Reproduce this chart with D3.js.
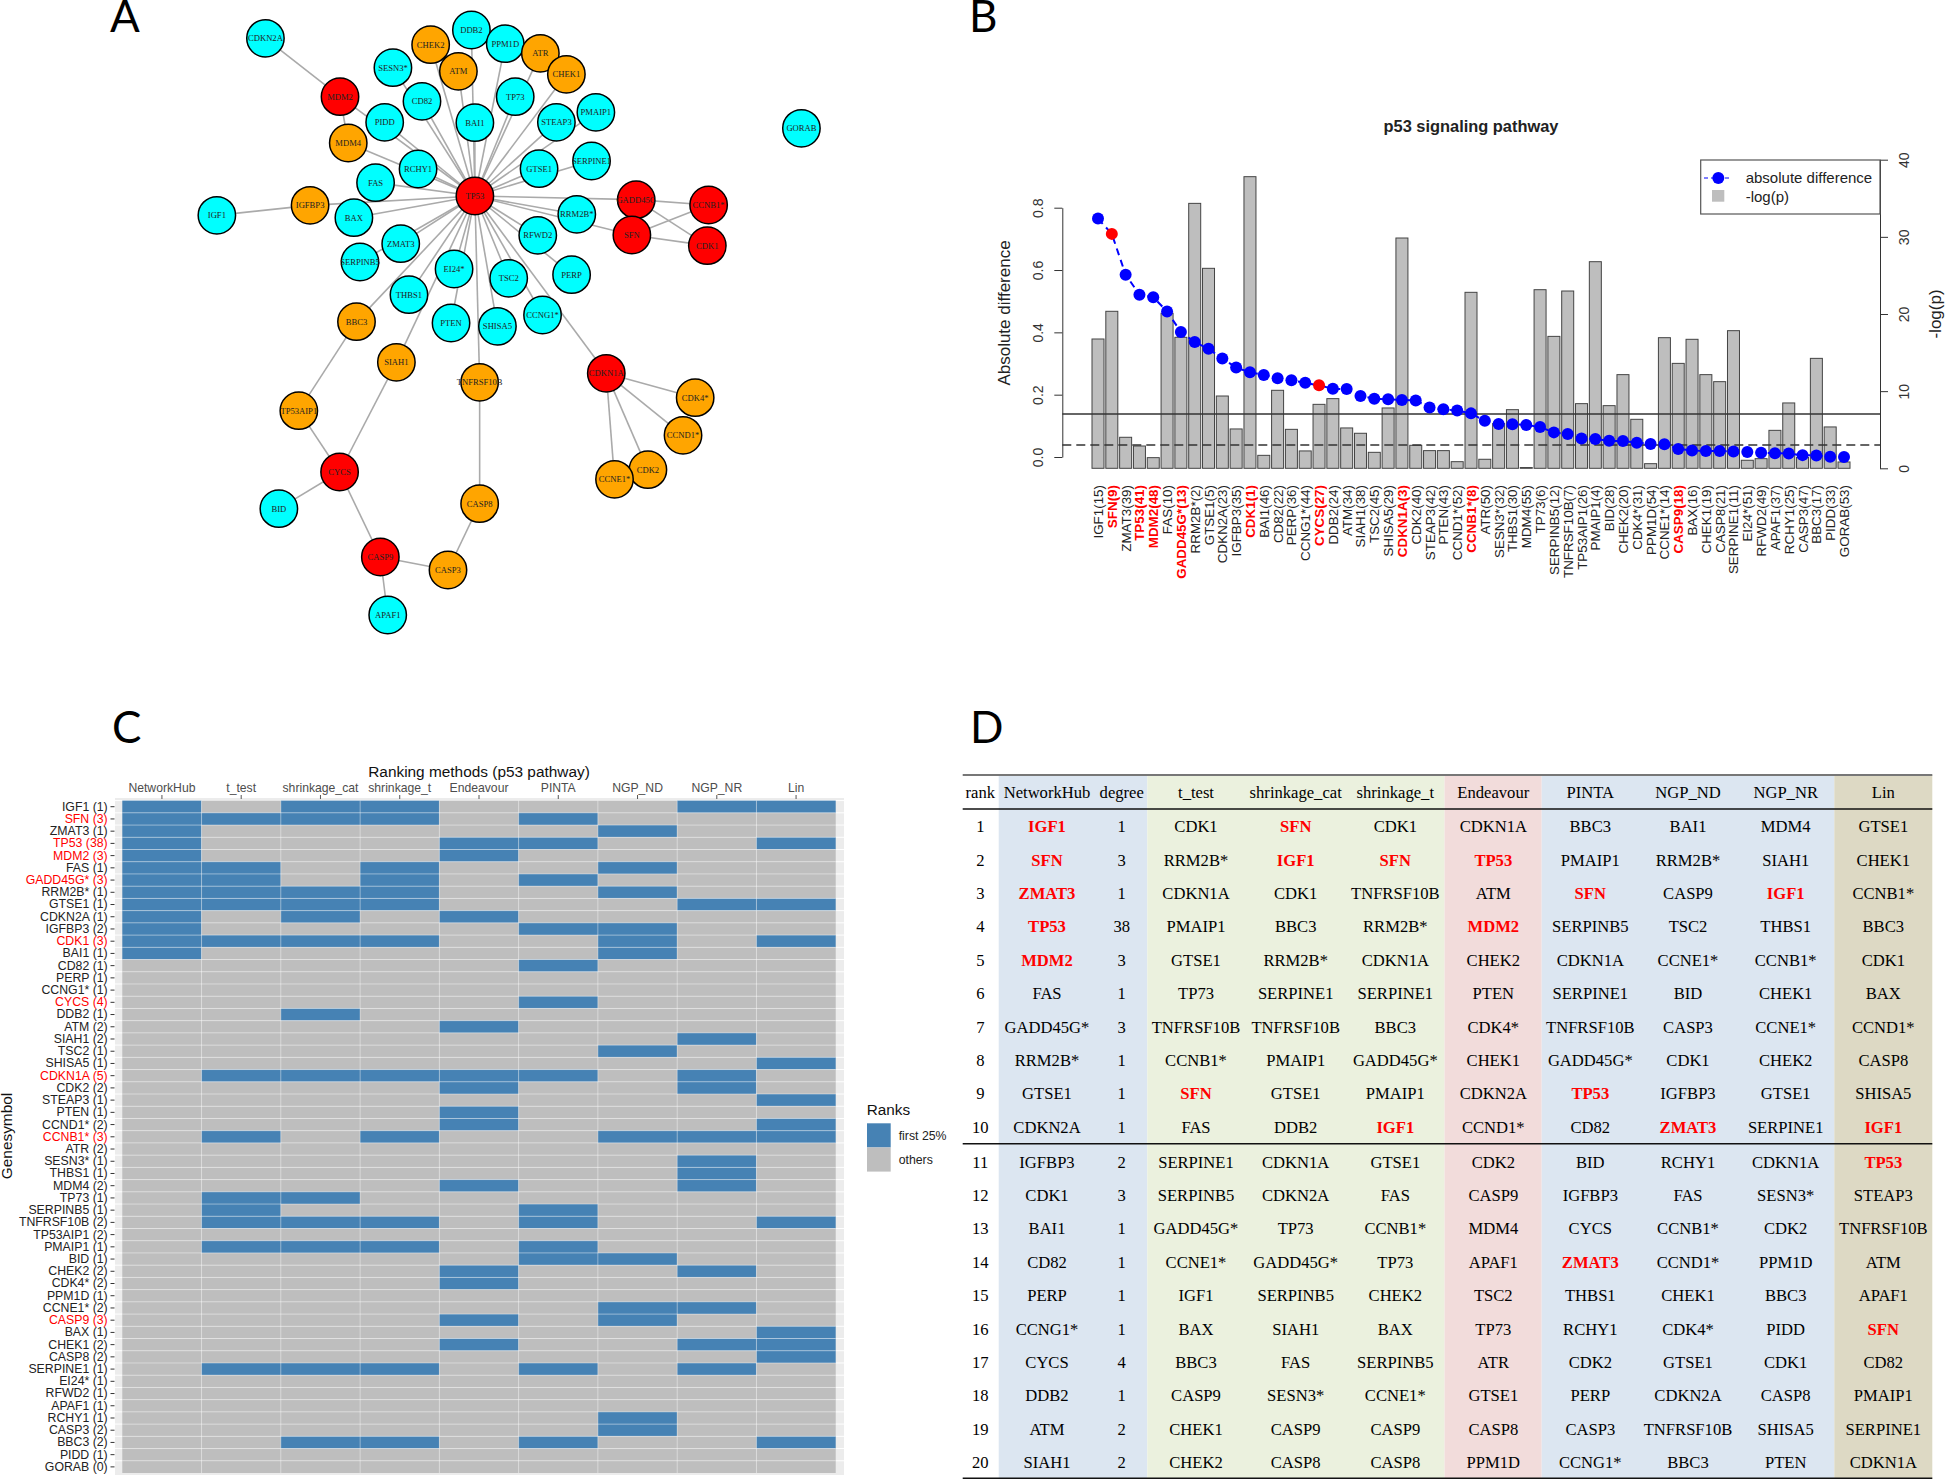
<!DOCTYPE html>
<html><head><meta charset="utf-8">
<script src="https://cdn.jsdelivr.net/npm/d3@7/dist/d3.min.js"></script>
<style>html,body{margin:0;padding:0;background:#fff}svg{display:block}</style>
</head><body><svg id="c" width="1946" height="1479"></svg>
<script>
// ---------- panel A : network ----------
const netNames=["CDKN2A","DDB2","CHEK2","ATM","PPM1D","ATR","CHEK1","SESN3*","CD82","TP73","MDM2","PIDD","MDM4","BAI1","STEAP3","PMAIP1","RCHY1","GTSE1","SERPINE1","FAS","TP53","IGFBP3","BAX","IGF1","GADD45G","CCNB1*","SFN","CDK1","RRM2B*","RFWD2","ZMAT3","SERPINB5","EI24*","TSC2","PERP","THBS1","CCNG1*","PTEN","SHISA5","BBC3","GORAB","SIAH1","TNFRSF10B","CDKN1A","TP53AIP1","CDK4*","CCND1*","CDK2","CCNE1*","CYCS","BID","CASP8","CASP9","CASP3","APAF1"];
const netLayoutX=[197,672,578,642,750,831,891,491,558,773,369,472,388,680,868,959,549,828,949,451,680,300,401,85,1052,1219,1042,1216,915,825,509,415,632,758,903,528,836,625,732,407,1433,499,691,983,274,1188,1160,1079,1002,368,228,691,462,618,479];
const netLayoutY=[115,90,134,214,131,160,223,203,304,290,290,367,429,368,367,337,507,506,483,548,588,616,653,646,599,615,705,737,643,706,731,786,807,835,824,884,945,969,979,965,385,1087,1147,1120,1232,1193,1306,1409,1438,1416,1526,1511,1671,1710,1845];
const netKind=["c","c","o","o","c","o","o","c","c","c","r","c","o","c","c","c","c","c","c","c","r","o","c","c","r","r","r","r","c","c","c","c","c","c","c","c","c","c","c","o","c","o","o","r","o","o","o","o","o","r","c","o","r","o","c"];
const tp53Partners=["DDB2","CHEK2","ATM","SESN3*","CD82","BAI1","TP73","PPM1D","ATR","CHEK1","STEAP3","PMAIP1","PIDD","MDM4","RCHY1","GTSE1","SERPINE1","FAS","IGFBP3","BAX","GADD45G","RRM2B*","RFWD2","ZMAT3","SERPINB5","EI24*","TSC2","PERP","THBS1","CCNG1*","PTEN","SHISA5","BBC3","SIAH1","TNFRSF10B","CDKN1A","MDM2","SFN"];
const otherEdges=[["CDKN2A","MDM2"],["MDM2","MDM4"],["IGF1","IGFBP3"],["GADD45G","CCNB1*"],["GADD45G","CDK1"],["SFN","CCNB1*"],["SFN","CDK1"],["CDKN1A","CDK4*"],["CDKN1A","CCND1*"],["CDKN1A","CDK2"],["CDKN1A","CCNE1*"],["BBC3","TP53AIP1"],["TP53AIP1","CYCS"],["SIAH1","CYCS"],["CYCS","BID"],["CYCS","CASP9"],["CASP9","APAF1"],["CASP9","CASP3"],["CASP3","CASP8"],["CASP8","TNFRSF10B"]];
const kindColors={c:"#00FFFF",o:"#FFA500",r:"#FF0000"};

// ---------- panel B : bars + points ----------
const geneLabels=["IGF1(15)","SFN(9)","ZMAT3(39)","TP53(41)","MDM2(48)","FAS(10)","GADD45G*(13)","RRM2B*(2)","GTSE1(5)","CDKN2A(23)","IGFBP3(35)","CDK1(1)","BAI1(46)","CD82(22)","PERP(36)","CCNG1*(44)","CYCS(27)","DDB2(24)","ATM(34)","SIAH1(38)","TSC2(45)","SHISA5(29)","CDKN1A(3)","CDK2(40)","STEAP3(42)","PTEN(43)","CCND1*(52)","CCNB1*(8)","ATR(50)","SESN3*(32)","THBS1(30)","MDM4(55)","TP73(6)","SERPINB5(12)","TNFRSF10B(7)","TP53AIP1(26)","PMAIP1(4)","BID(28)","CHEK2(20)","CDK4*(31)","PPM1D(54)","CCNE1*(14)","CASP9(18)","BAX(16)","CHEK1(19)","CASP8(21)","SERPINE1(11)","EI24*(51)","RFWD2(49)","APAF1(37)","RCHY1(25)","CASP3(47)","BBC3(17)","PIDD(33)","GORAB(53)"];
const redGeneLabels=["SFN(9)","TP53(41)","MDM2(48)","GADD45G*(13)","CDK1(1)","CYCS(27)","CDKN1A(3)","CCNB1*(8)","CASP9(18)"];
const redPointLabels=["SFN(9)","CYCS(27)"];
const logP=[16.76,20.35,4.02,2.89,1.38,20.1,16.98,34.34,25.92,9.37,5.10,37.8,1.68,10.11,5.05,2.25,8.29,9.03,5.23,4.54,2.07,7.82,29.85,2.98,2.29,2.29,0.86,22.81,1.17,5.8,7.6,0.1,23.15,17.1,22.98,8.38,26.78,8.12,12.14,6.35,0.6,16.93,13.6,16.72,12.14,11.23,17.84,1.04,1.25,4.92,8.47,1.4,14.25,5.36,0.82];
const absDiff=[.765,.716,.585,.521,.513,.467,.401,.369,.347,.316,.287,.272,.263,.253,.246,.238,.230,.219,.218,.196,.187,.185,.183,.181,.159,.153,.149,.140,.116,.106,.105,.103,.096,.079,.074,.059,.058,.052,.051,.046,.042,.041,.026,.021,.019,.019,.018,.016,.014,.012,.011,.006,.005,.001,0];
const solidCut=7.04, dashedCut=3.02;

// ---------- panel C : heat map ----------
const heatRows=["IGF1 (1)","SFN (3)","ZMAT3 (1)","TP53 (38)","MDM2 (3)","FAS (1)","GADD45G* (3)","RRM2B* (1)","GTSE1 (1)","CDKN2A (1)","IGFBP3 (2)","CDK1 (3)","BAI1 (1)","CD82 (1)","PERP (1)","CCNG1* (1)","CYCS (4)","DDB2 (1)","ATM (2)","SIAH1 (2)","TSC2 (1)","SHISA5 (1)","CDKN1A (5)","CDK2 (2)","STEAP3 (1)","PTEN (1)","CCND1* (2)","CCNB1* (3)","ATR (2)","SESN3* (1)","THBS1 (1)","MDM4 (2)","TP73 (1)","SERPINB5 (1)","TNFRSF10B (2)","TP53AIP1 (2)","PMAIP1 (1)","BID (1)","CHEK2 (2)","CDK4* (2)","PPM1D (1)","CCNE1* (2)","CASP9 (3)","BAX (1)","CHEK1 (2)","CASP8 (2)","SERPINE1 (1)","EI24* (1)","RFWD2 (1)","APAF1 (1)","RCHY1 (1)","CASP3 (2)","BBC3 (2)","PIDD (1)","GORAB (0)"];
const redHeatRows=["SFN (3)","TP53 (38)","MDM2 (3)","GADD45G* (3)","CDK1 (3)","CYCS (4)","CDKN1A (5)","CCNB1* (3)","CASP9 (3)"];
const heatMethods=["NetworkHub","t_test","shrinkage_cat","shrinkage_t","Endeavour","PINTA","NGP_ND","NGP_NR","Lin"];
const topNetworkHub=["IGF1","SFN","ZMAT3","TP53","MDM2","FAS","GADD45G*","RRM2B*","GTSE1","CDKN2A","IGFBP3","CDK1","BAI1"];
const topTTest=["SFN","FAS","GADD45G*","RRM2B*","GTSE1","CDK1","CDKN1A","CCNB1*","TP73","SERPINB5","TNFRSF10B","PMAIP1","SERPINE1"];
const topShrinkCat=["IGF1","SFN","RRM2B*","GTSE1","CDKN2A","CDK1","DDB2","CDKN1A","TP73","TNFRSF10B","PMAIP1","SERPINE1","BBC3"];
const topShrinkT=["IGF1","SFN","FAS","GADD45G*","RRM2B*","GTSE1","CDK1","CDKN1A","CCNB1*","TNFRSF10B","PMAIP1","SERPINE1","BBC3"];
const topEndeavour=["TP53","MDM2","CDKN2A","ATM","CDKN1A","CDK2","PTEN","CCND1*","MDM4","CHEK2","CDK4*","CASP9","CHEK1"];
const topPinta=["SFN","TP53","GADD45G*","IGFBP3","CD82","CYCS","CDKN1A","SERPINB5","TNFRSF10B","PMAIP1","BID","SERPINE1","BBC3"];
const topNgpNd=["ZMAT3","FAS","RRM2B*","IGFBP3","CDK1","BAI1","TSC2","CCNB1*","BID","CCNE1*","CASP9","RCHY1","CASP3"];
const topNgpNr=["IGF1","GTSE1","SIAH1","CDKN1A","CDK2","CCNB1*","SESN3*","THBS1","MDM4","CHEK2","CCNE1*","CHEK1","SERPINE1"];
const topLin=["IGF1","TP53","GTSE1","CDK1","SHISA5","STEAP3","CCND1*","CCNB1*","TNFRSF10B","BAX","CHEK1","CASP8","BBC3"];
const heatTop=[topNetworkHub,topTTest,topShrinkCat,topShrinkT,topEndeavour,topPinta,topNgpNd,topNgpNr,topLin];

// ---------- panel D : table ----------
const tableRanks=[1,2,3,4,5,6,7,8,9,10,11,12,13,14,15,16,17,18,19,20];
const tableHeaders=["rank","NetworkHub","degree","t_test","shrinkage_cat","shrinkage_t","Endeavour","PINTA","NGP_ND","NGP_NR","Lin"];
const colHub=["IGF1","SFN","ZMAT3","TP53","MDM2","FAS","GADD45G*","RRM2B*","GTSE1","CDKN2A","IGFBP3","CDK1","BAI1","CD82","PERP","CCNG1*","CYCS","DDB2","ATM","SIAH1"];
const colDegree=[1,3,1,38,3,1,3,1,1,1,2,3,1,1,1,1,4,1,2,2];
const colT=["CDK1","RRM2B*","CDKN1A","PMAIP1","GTSE1","TP73","TNFRSF10B","CCNB1*","SFN","FAS","SERPINE1","SERPINB5","GADD45G*","CCNE1*","IGF1","BAX","BBC3","CASP9","CHEK1","CHEK2"];
const colCat=["SFN","IGF1","CDK1","BBC3","RRM2B*","SERPINE1","TNFRSF10B","PMAIP1","GTSE1","DDB2","CDKN1A","CDKN2A","TP73","GADD45G*","SERPINB5","SIAH1","FAS","SESN3*","CASP9","CASP8"];
const colShrinkT=["CDK1","SFN","TNFRSF10B","RRM2B*","CDKN1A","SERPINE1","BBC3","GADD45G*","PMAIP1","IGF1","GTSE1","FAS","CCNB1*","TP73","CHEK2","BAX","SERPINB5","CCNE1*","CASP9","CASP8"];
const colEnd=["CDKN1A","TP53","ATM","MDM2","CHEK2","PTEN","CDK4*","CHEK1","CDKN2A","CCND1*","CDK2","CASP9","MDM4","APAF1","TSC2","TP73","ATR","GTSE1","CASP8","PPM1D"];
const colPinta=["BBC3","PMAIP1","SFN","SERPINB5","CDKN1A","SERPINE1","TNFRSF10B","GADD45G*","TP53","CD82","BID","IGFBP3","CYCS","ZMAT3","THBS1","RCHY1","CDK2","PERP","CASP3","CCNG1*"];
const colNd=["BAI1","RRM2B*","CASP9","TSC2","CCNE1*","BID","CASP3","CDK1","IGFBP3","ZMAT3","RCHY1","FAS","CCNB1*","CCND1*","CHEK1","CDK4*","GTSE1","CDKN2A","TNFRSF10B","BBC3"];
const colNr=["MDM4","SIAH1","IGF1","THBS1","CCNB1*","CHEK1","CCNE1*","CHEK2","GTSE1","SERPINE1","CDKN1A","SESN3*","CDK2","PPM1D","BBC3","PIDD","CDK1","CASP8","SHISA5","PTEN"];
const colLin=["GTSE1","CHEK1","CCNB1*","BBC3","CDK1","BAX","CCND1*","CASP8","SHISA5","IGF1","TP53","STEAP3","TNFRSF10B","ATM","APAF1","SFN","CD82","PMAIP1","SERPINE1","CDKN1A"];
const tableCols=[tableRanks,colHub,colDegree,colT,colCat,colShrinkT,colEnd,colPinta,colNd,colNr,colLin];
const tableTop5=["IGF1","SFN","ZMAT3","TP53","MDM2"];
const tableBlackExceptions=["t_test:IGF1"];

const svg=d3.select("#c");
const SANS="'Liberation Sans',Arial,sans-serif", SERIF="'Liberation Serif','Times New Roman',serif";

// panel letters
const letters=["A","B","C","D"], letterX=[110,969,112,970], letterY=[32,32,743,743];
svg.selectAll("text.letter").data(letters).join("text").attr("class","letter")
  .attr("x",(d,i)=>letterX[i]).attr("y",(d,i)=>letterY[i]).text(d=>d)
  .style("font-family","Lato,'Open Sans',sans-serif").style("font-size","44px").attr("fill","#000");

// ===== A =====
(function(){
  const g=svg.append("g");
  const x=d3.scaleLinear().domain([0,2306]).range([180,1180]);
  const y=d3.scaleLinear().domain([0,3000]).range([0,1000]);
  const idx=new Map(netNames.map((n,i)=>[n,i]));
  const edges=tp53Partners.map(p=>["TP53",p]).concat(otherEdges);
  g.selectAll("line").data(edges).join("line")
    .attr("x1",d=>x(netLayoutX[idx.get(d[0])])).attr("y1",d=>y(netLayoutY[idx.get(d[0])]))
    .attr("x2",d=>x(netLayoutX[idx.get(d[1])])).attr("y2",d=>y(netLayoutY[idx.get(d[1])]))
    .attr("stroke","#aaaaaa").attr("stroke-width",1.6);
  const n=g.selectAll("g.n").data(netNames).join("g").attr("class","n")
    .attr("transform",(d,i)=>`translate(${x(netLayoutX[i])},${y(netLayoutY[i])})`);
  n.append("circle").attr("r",18.7).attr("fill",(d,i)=>kindColors[netKind[i]]).attr("stroke","#000").attr("stroke-width",1.5);
  n.append("text").text(d=>d).attr("text-anchor","middle").attr("dy","0.33em")
    .style("font-family",SERIF).style("font-size","8.6px").attr("fill","#222");
})();

// ===== B =====
(function(){
  const g=svg.append("g");
  const yL=d3.scaleLinear().domain([0,0.8]).range([457,207.7]);
  const yR=d3.scaleLinear().domain([0,40]).range([468.3,159.7]);
  const x=d3.scalePoint().domain(geneLabels).range([1098,1844]);
  const barW=12;
  g.selectAll("rect.bar").data(geneLabels).join("rect").attr("class","bar")
    .attr("x",d=>x(d)-barW/2).attr("width",barW)
    .attr("y",(d,i)=>yR(logP[i])).attr("height",(d,i)=>yR(0)-yR(logP[i]))
    .attr("fill","#BEBEBE").attr("stroke","#444").attr("stroke-width",1);
  g.append("line").attr("x1",1062.3).attr("x2",1880).attr("y1",yR(solidCut)).attr("y2",yR(solidCut)).attr("stroke","#333").attr("stroke-width",1.3);
  g.append("line").attr("x1",1062.3).attr("x2",1880).attr("y1",yR(dashedCut)).attr("y2",yR(dashedCut)).attr("stroke","#333").attr("stroke-width",1.3).attr("stroke-dasharray","9,5");
  const line=d3.line().x((d,i)=>x(geneLabels[i])).y(d=>yL(d));
  g.append("path").attr("d",line(absDiff)).attr("fill","none").attr("stroke","#0000FF").attr("stroke-width",2).attr("stroke-dasharray","7,5");
  g.selectAll("circle.pt").data(geneLabels).join("circle").attr("class","pt")
    .attr("cx",d=>x(d)).attr("cy",(d,i)=>yL(absDiff[i])).attr("r",6)
    .attr("fill",d=>redPointLabels.includes(d)?"#FF0000":"#0000FF");
  g.selectAll("text.gl").data(geneLabels).join("text").attr("class","gl")
    .attr("transform",d=>`translate(${x(d)+5},485) rotate(-90)`)
    .attr("text-anchor","end").text(d=>d)
    .style("font-family",SANS).style("font-size","13.4px")
    .style("font-weight",d=>redGeneLabels.includes(d)?"bold":"normal")
    .attr("fill",d=>redGeneLabels.includes(d)?"#FF0000":"#222");
  const axL=g.append("g").attr("transform","translate(1062.3,0)")
    .call(d3.axisLeft(yL).tickValues([0,.2,.4,.6,.8]).tickFormat(d3.format(".1f")).tickSize(8).tickSizeOuter(0));
  const axR=g.append("g").attr("transform","translate(1880,0)")
    .call(d3.axisRight(yR).tickValues([0,10,20,30,40]).tickSize(8).tickSizeOuter(0));
  [axL,axR].forEach(a=>{a.select(".domain").attr("stroke","#333");a.selectAll("line").attr("stroke","#333");});
  axL.selectAll("text").attr("transform","rotate(-90)").attr("x",0).attr("y",-19.6).attr("dy",0).attr("text-anchor","middle")
    .style("font-family",SANS).style("font-size","14px").attr("fill","#333");
  axR.selectAll("text").attr("transform","rotate(-90)").attr("x",0).attr("y",29).attr("dy",0).attr("text-anchor","middle")
    .style("font-family",SANS).style("font-size","14px").attr("fill","#333");
  g.append("text").attr("transform","translate(1010,313) rotate(-90)").attr("text-anchor","middle").text("Absolute difference")
    .style("font-family",SANS).style("font-size","17px").attr("fill","#222");
  g.append("text").attr("transform","translate(1941,314) rotate(-90)").attr("text-anchor","middle").text("-log(p)")
    .style("font-family",SANS).style("font-size","17px").attr("fill","#222");
  g.append("text").attr("x",1471).attr("y",132).attr("text-anchor","middle").text("p53 signaling pathway")
    .style("font-family",SANS).style("font-size","16.4px").style("font-weight","bold").attr("fill","#222");
  // legend
  g.append("rect").attr("x",1700.7).attr("y",160).attr("width",179.3).attr("height",54).attr("fill","#fff").attr("stroke","#555").attr("stroke-width",1.2);
  g.append("line").attr("x1",1704).attr("x2",1732).attr("y1",178).attr("y2",178).attr("stroke","#0000FF").attr("stroke-width",1).attr("stroke-dasharray","4,3");
  g.append("circle").attr("cx",1718.3).attr("cy",178).attr("r",6).attr("fill","#0000FF");
  g.append("rect").attr("x",1712).attr("y",190).attr("width",12.3).attr("height",11.7).attr("fill","#BEBEBE");
  const legText=["absolute difference","-log(p)"], legY=[183.3,202];
  g.selectAll("text.leg").data(legText).join("text").attr("class","leg").attr("x",1745.7).attr("y",(d,i)=>legY[i]).text(d=>d)
    .style("font-family",SANS).style("font-size","15px").attr("fill","#222");
})();

// ===== C =====
(function(){
  const g=svg.append("g");
  const x=d3.scaleBand().domain(heatMethods).range([122.3,835.7]);
  const y=d3.scaleBand().domain(heatRows).range([800.6,1473]);
  g.append("rect").attr("x",115).attr("y",798).attr("width",729).attr("height",677).attr("fill","#ececec");
  g.selectAll("line.st").data(heatRows).join("line").attr("class","st")
    .attr("x1",115).attr("x2",844).attr("y1",d=>y(d)).attr("y2",d=>y(d)).attr("stroke","#fff").attr("stroke-width",1);
  const cells=heatMethods.flatMap((m,j)=>heatRows.map(r=>({m,r,top:heatTop[j].includes(r.split(" (")[0])})));
  g.selectAll("rect.cell").data(cells).join("rect").attr("class","cell")
    .attr("x",d=>x(d.m)).attr("width",x.bandwidth()).attr("y",d=>y(d.r)).attr("height",y.bandwidth())
    .attr("fill",d=>d.top?"#4682B4":"#BEBEBE");
  g.selectAll("line.rowl").data(heatRows.slice(1)).join("line").attr("class","rowl")
    .attr("x1",122.3).attr("x2",835.7).attr("y1",d=>y(d)).attr("y2",d=>y(d)).attr("stroke","#fff").attr("stroke-opacity",.4).attr("stroke-width",1);
  g.selectAll("line.coll").data(heatMethods.slice(1)).join("line").attr("class","coll")
    .attr("y1",800.6).attr("y2",1473).attr("x1",d=>x(d)).attr("x2",d=>x(d)).attr("stroke","#fff").attr("stroke-opacity",.35).attr("stroke-width",1);
  const axT=g.append("g").attr("transform","translate(0,799)").call(d3.axisTop(x).tickSize(4).tickSizeOuter(0));
  axT.select(".domain").remove();
  axT.selectAll("line").attr("stroke","#555");
  axT.selectAll("text").attr("y",-7.3).attr("dy",0).style("font-family",SANS).style("font-size","12.2px").attr("fill","#4d4d4d");
  const axL=g.append("g").attr("transform","translate(114.5,0)").call(d3.axisLeft(y).tickSize(4).tickSizeOuter(0).tickPadding(2.8));
  axL.select(".domain").remove();
  axL.selectAll("line").attr("stroke","#333");
  axL.selectAll("text").style("font-family",SANS).style("font-size","12.3px").attr("fill",d=>redHeatRows.includes(d)?"#FF0000":"#222");
  g.append("text").attr("x",479).attr("y",776.7).attr("text-anchor","middle").text("Ranking methods (p53 pathway)")
    .style("font-family",SANS).style("font-size","15.4px").attr("fill","#111");
  g.append("text").attr("transform","translate(12,1136) rotate(-90)").attr("text-anchor","middle").text("Genesymbol")
    .style("font-family",SANS).style("font-size","15.4px").attr("fill","#111");
  // legend
  g.append("text").attr("x",866.7).attr("y",1115).text("Ranks").style("font-family",SANS).style("font-size","15.3px").attr("fill","#111");
  const keyFill=["#4682B4","#BEBEBE"], keyText=["first 25%","others"];
  const ky=d3.scaleBand().domain(keyText).range([1123.3,1171.6]);
  g.selectAll("rect.key").data(keyText).join("rect").attr("class","key").attr("x",867).attr("width",23.7)
    .attr("y",d=>ky(d)).attr("height",ky.bandwidth()).attr("fill",(d,i)=>keyFill[i]);
  g.selectAll("text.kt").data(keyText).join("text").attr("class","kt").attr("x",898.7).attr("y",d=>ky(d)+ky.bandwidth()/2+4.4).text(d=>d)
    .style("font-family",SANS).style("font-size","12.3px").attr("fill","#222");
})();

// ===== D =====
(function(){
  const g=svg.append("g");
  const colX=[980.3,1047,1121.7,1196,1295.7,1395.3,1493.3,1590.3,1688,1785.7,1883.3];
  const y=d3.scaleLinear().domain([1,10,11,20]).range([826.7,1127.3,1162.2,1462.5]);
  const bandEdges=[998.7,1147.3,1444.5,1541.7,1834.3,1932.3], bandColors=["#DCE6F1","#EBF1DE","#F2DCDB","#DCE6F1","#DDD9C4"];
  g.selectAll("rect.b").data(bandColors).join("rect").attr("class","b")
    .attr("x",(d,i)=>bandEdges[i]).attr("width",(d,i)=>bandEdges[i+1]-bandEdges[i])
    .attr("y",775).attr("height",704).attr("fill",d=>d);
  const rules=[775,809,1143.8,1478.6], ruleW=[2,1.5,1.5,2], ruleC=["#777","#111","#111","#111"];
  g.selectAll("line.r").data(rules).join("line").attr("class","r").attr("x1",962.7).attr("x2",1932.3)
    .attr("y1",d=>d).attr("y2",d=>d).attr("stroke-width",(d,i)=>ruleW[i]).attr("stroke",(d,i)=>ruleC[i]);
  const T=(s)=>s.style("font-family",SERIF).style("font-size","16.6px").attr("text-anchor","middle").attr("dy","0.33em");
  g.selectAll("text.h").data(tableHeaders).join("text").attr("class","h").attr("x",(d,i)=>colX[i]).attr("y",792.7).text(d=>d).call(T).attr("fill","#000");
  const cells=tableCols.flatMap((c,j)=>c.map((v,i)=>({v,j,rank:tableRanks[i]})));
  const isRed=d=>d.j!=0&&d.j!=2&&tableTop5.includes(d.v)&&!tableBlackExceptions.includes(tableHeaders[d.j]+":"+d.v);
  g.selectAll("text.c").data(cells).join("text").attr("class","c").attr("x",d=>colX[d.j]).attr("y",d=>y(d.rank)).text(d=>d.v).call(T)
    .style("font-weight",d=>isRed(d)?"bold":"normal").attr("fill",d=>isRed(d)?"#FF0000":"#000");
})();
</script></body></html>
